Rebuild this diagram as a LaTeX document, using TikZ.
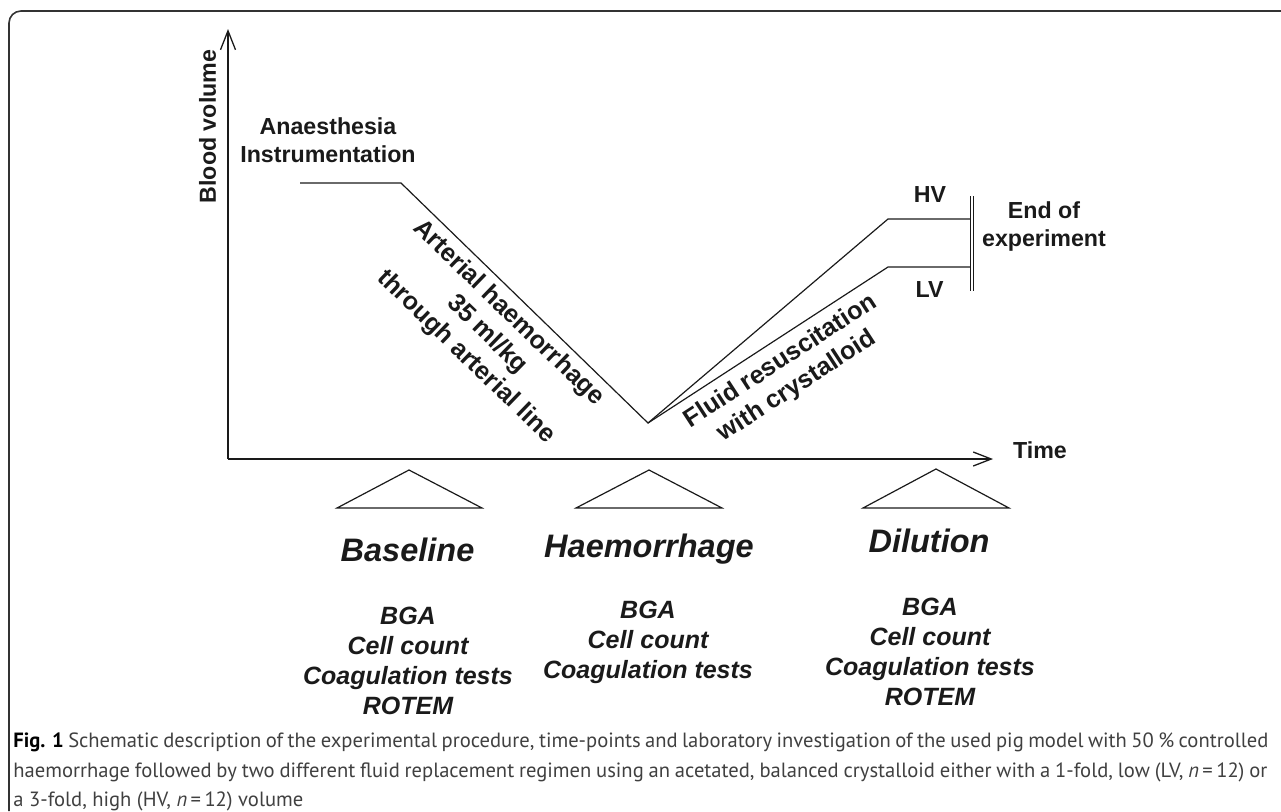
\documentclass[tikz,border=0pt]{standalone}
\usepackage{fontspec}
\setmainfont{Liberation Sans}
\newfontfamily\capfont{PT Sans}
\usetikzlibrary{arrows.meta}
\definecolor{ink}{HTML}{1A1A1A}
\definecolor{captext}{HTML}{404040}
\begin{document}
\begin{tikzpicture}[x=0.5pt,y=-0.5pt,
  lbl/.style={font=\fontsize{11.6pt}{14pt}\selectfont\bfseries, text=ink, inner sep=0pt},
  phase/.style={font=\fontsize{16.25pt}{19pt}\selectfont\bfseries\itshape, text=ink, inner sep=0pt, anchor=base},
  lst/.style={font=\fontsize{12.5pt}{15pt}\selectfont\bfseries\itshape, text=ink, inner sep=0pt, anchor=base},
  capt/.style={font=\capfont\fontsize{10.3pt}{14.75pt}\selectfont, text=captext, inner sep=0pt, anchor=base west},
  ln/.style={line width=0.6pt, draw=ink},
  axis/.style={line width=0.65pt, draw=ink},
  frame/.style={line width=0.8pt, draw=black!80, rounded corners=6pt}]
\useasboundingbox (0,0) rectangle (1281,811);
% frame
\draw[frame] (9,811) -- (9,11) -- (1281,11);
% axes
\coordinate (O) at (228,459);
\coordinate (ytip) at (228,29);
\coordinate (xtip) at (993,459);
\draw[axis, -{Straight Barb[length=9.5pt,width=7.5pt]}] (O) -- (ytip);
\draw[axis, -{Straight Barb[length=9pt,width=7pt]}] (O) -- (xtip);
% volume curve
\coordinate (s) at (300,183);
\coordinate (a) at (401,183);
\coordinate (m) at (648,423);
\coordinate (hv) at (888,219);
\coordinate (lv) at (888,267);
\coordinate (hve) at (970.5,219);
\coordinate (lve) at (970.5,267);
\draw[ln] (s) -- (a) -- (m) -- (hv) -- (hve);
\draw[ln] (m) -- (lv) -- (lve);
% end bar
\coordinate (b1t) at (970.5,196);
\coordinate (b1b) at (970.5,291);
\coordinate (b2t) at (973.5,196);
\coordinate (b2b) at (973.5,291);
\draw[ln] (b1t) -- (b1b);
\draw[ln] (b2t) -- (b2b);
% labels
\node[lbl, rotate=90] (bv) at (207.5,126.5) {Blood volume};
\node[lbl, anchor=base] (an1) at (328,134) {Anaesthesia};
\node[lbl, anchor=base] (an2) at (328,162) {Instrumentation};
\node[lbl, align=center, rotate=-44, font=\fontsize{12.6pt}{15.25pt}\selectfont\bfseries] (art) at (487,335) {Arterial haemorrhage\\35 ml/kg\\through arterial line};
\node[lbl, align=center, rotate=33, font=\fontsize{12.6pt}{14.85pt}\selectfont\bfseries] (fluid) at (789,374) {Fluid resuscitation\\with crystalloid};
\node[lbl] (hvl) at (930,194.5) {HV};
\node[lbl] (lvl) at (929.5,289.5) {LV};
\node[lbl, anchor=base] (end1) at (1044,218) {End of};
\node[lbl, anchor=base] (end2) at (1044,246) {experiment};
\node[lbl] (time) at (1040,450) {Time};
% triangles
\coordinate (t1l) at (337,508); \coordinate (t1a) at (409,470); \coordinate (t1r) at (482,508);
\coordinate (t2l) at (576,508); \coordinate (t2a) at (649,470); \coordinate (t2r) at (722,508);
\coordinate (t3l) at (863,508); \coordinate (t3a) at (936,469); \coordinate (t3r) at (1009,508);
\draw[ln] (t1l) -- (t1a) -- (t1r) -- cycle;
\draw[ln] (t2l) -- (t2a) -- (t2r) -- cycle;
\draw[ln] (t3l) -- (t3a) -- (t3r) -- cycle;
% phases
\node[phase] (ph1) at (407.5,561) {Baseline};
\node[phase] (ph2) at (649,557) {Haemorrhage};
\node[phase] (ph3) at (929,552) {Dilution};
% lists
\foreach \t [count=\i] in {BGA, Cell count, Coagulation tests, ROTEM}
  \node[lst] (la\i) at (408,594.5+30*\i) {\t};
\foreach \t [count=\i] in {BGA, Cell count, Coagulation tests}
  \node[lst] (lb\i) at (648,588.5+30*\i) {\t};
\foreach \t [count=\i] in {BGA, Cell count, Coagulation tests, ROTEM}
  \node[lst] (lc\i) at (930,585+30*\i) {\t};
% caption
\node[capt] (cap1) at (13,747.5) {\makebox[627.5pt][s]{{\bfseries\color{black}Fig. 1} Schematic description of the experimental procedure, time-points and laboratory investigation of the used pig model with 50 \% controlled}};
\node[capt] (cap2) at (13,777) {\makebox[627pt][s]{haemorrhage followed by two different fluid replacement regimen using an acetated, balanced crystalloid either with a 1-fold, low (LV, \textit{n}\,=\,12) or}};
\node[capt] (cap3) at (13,806.5) {a 3-fold, high (HV, \textit{n}\,=\,12) volume};
\end{tikzpicture}
\end{document}
